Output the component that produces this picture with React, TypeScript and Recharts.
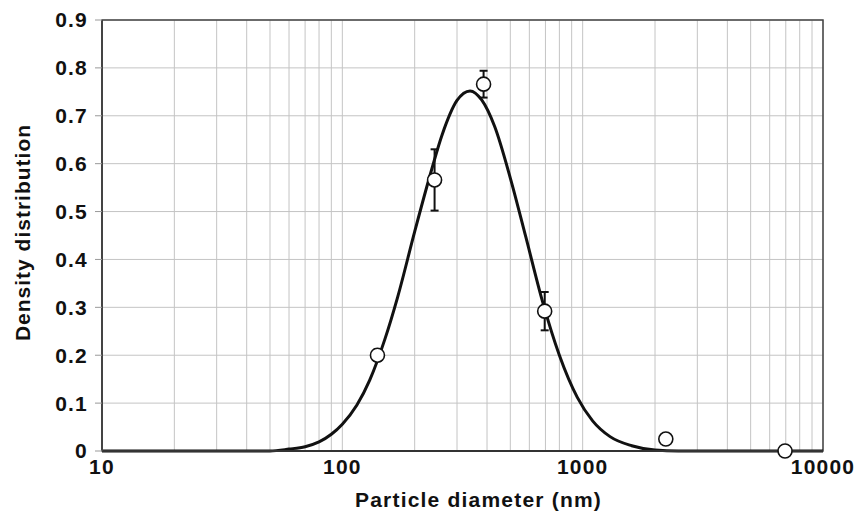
import React from "react";
import {
  ComposedChart,
  Line,
  Scatter,
  ErrorBar,
  XAxis,
  YAxis,
  CartesianGrid,
  ReferenceArea,
} from "recharts";

// fitted curve (diameter nm, density)
const curveD = [10, 50, 60, 70, 80, 90, 100, 115, 130, 150, 170, 200, 230, 260, 300, 340, 380, 430, 500, 580, 680, 800, 950, 1100, 1300, 1600, 2000, 2500, 10000];
const curveY = [0, 0, 0.004, 0.009, 0.019, 0.035, 0.056, 0.096, 0.148, 0.232, 0.322, 0.458, 0.57, 0.66, 0.732, 0.752, 0.733, 0.678, 0.57, 0.447, 0.313, 0.2, 0.112, 0.063, 0.03, 0.011, 0.002, 0, 0];

// measured points
const pointD = [140, 242, 387, 695, 2218, 6950];
const pointY = [0.2, 0.566, 0.766, 0.292, 0.025, 0];
const pointErr = [0.012, 0.064, 0.028, 0.04, 0, 0];

const xTicks = [10, 20, 30, 40, 50, 60, 70, 80, 90, 100, 200, 300, 400, 500, 600, 700, 800, 900, 1000, 2000, 3000, 4000, 5000, 6000, 7000, 8000, 9000, 10000];
const xLabels = [10, 100, 1000, 10000];
const yTicks = [0, 0.1, 0.2, 0.3, 0.4, 0.5, 0.6, 0.7, 0.8, 0.9];

const curve = curveD.map((d, i) => ({ d, y: curveY[i] }));
const points = pointD.map((d, i) => ({ d, y: pointY[i], err: pointErr[i] }));

const font = "'Liberation Sans', Arial, sans-serif";
const tickStyle = { fill: "#111", fontSize: 21, fontWeight: 700, fontFamily: font, letterSpacing: 1.2 };

const Dot = (p: any) => (
  <circle cx={p.cx} cy={p.cy} r={7} fill="#fff" stroke="#111" strokeWidth={1.6} />
);

const YTitle = ({ viewBox }: any) => (
  <text
    x={viewBox.x + 22}
    y={viewBox.y + viewBox.height / 2 - 3}
    transform={`rotate(-90, ${viewBox.x + 22}, ${viewBox.y + viewBox.height / 2 - 3})`}
    textAnchor="middle"
    dominantBaseline="central"
    style={{ fill: "#111", fontSize: 21, fontWeight: 700, fontFamily: font, letterSpacing: 1 }}
  >
    Density distribution
  </text>
);

const XTitle = ({ viewBox }: any) => (
  <text
    x={viewBox.x + viewBox.width / 2 + 16}
    y={viewBox.y + 48}
    textAnchor="middle"
    dominantBaseline="central"
    style={{ fill: "#111", fontSize: 21, fontWeight: 700, fontFamily: font, letterSpacing: 1.2 }}
  >
    Particle diameter (nm)
  </text>
);

export default function App() {
  return (
    <div style={{ position: "absolute", left: 0, top: 0, width: 862, height: 512, background: "#fff" }}>
      <ComposedChart width={862} height={512} margin={{ top: 20, right: 39, bottom: 0, left: 0 }}>
        <CartesianGrid stroke="#c4c4c4" strokeWidth={1} />
        <XAxis
          dataKey="d"
          type="number"
          scale="log"
          domain={[10, 10000]}
          ticks={xTicks}
          interval={0}
          allowDataOverflow
          height={61}
          tickLine={false}
          tickSize={0}
          tickMargin={8}
          axisLine={{ stroke: "#333", strokeWidth: 2 }}
          tick={tickStyle}
          tickFormatter={(v: number) => (xLabels.includes(v) ? String(v) : "")}
          label={<XTitle />}
        />
        <YAxis
          type="number"
          domain={[0, 0.9]}
          ticks={yTicks}
          interval={0}
          width={102}
          tickSize={7}
          tickMargin={7}
          tickLine={{ stroke: "#999" }}
          axisLine={{ stroke: "#444", strokeWidth: 2 }}
          tick={tickStyle}
          tickFormatter={(v: number) => (v === 0 ? "0" : v.toFixed(1))}
          label={<YTitle />}
        />
        <ReferenceArea x1={10} x2={10000} y1={0} y2={0.9} fill="none" stroke="#444" strokeWidth={1.5} />
        <Line
          data={curve}
          dataKey="y"
          type="monotone"
          stroke="#111"
          strokeWidth={3}
          dot={false}
          isAnimationActive={false}
        />
        <Scatter data={points} dataKey="y" shape={Dot} isAnimationActive={false}>
          <ErrorBar dataKey="err" direction="y" width={4} stroke="#111" strokeWidth={2} />
        </Scatter>
      </ComposedChart>
    </div>
  );
}
